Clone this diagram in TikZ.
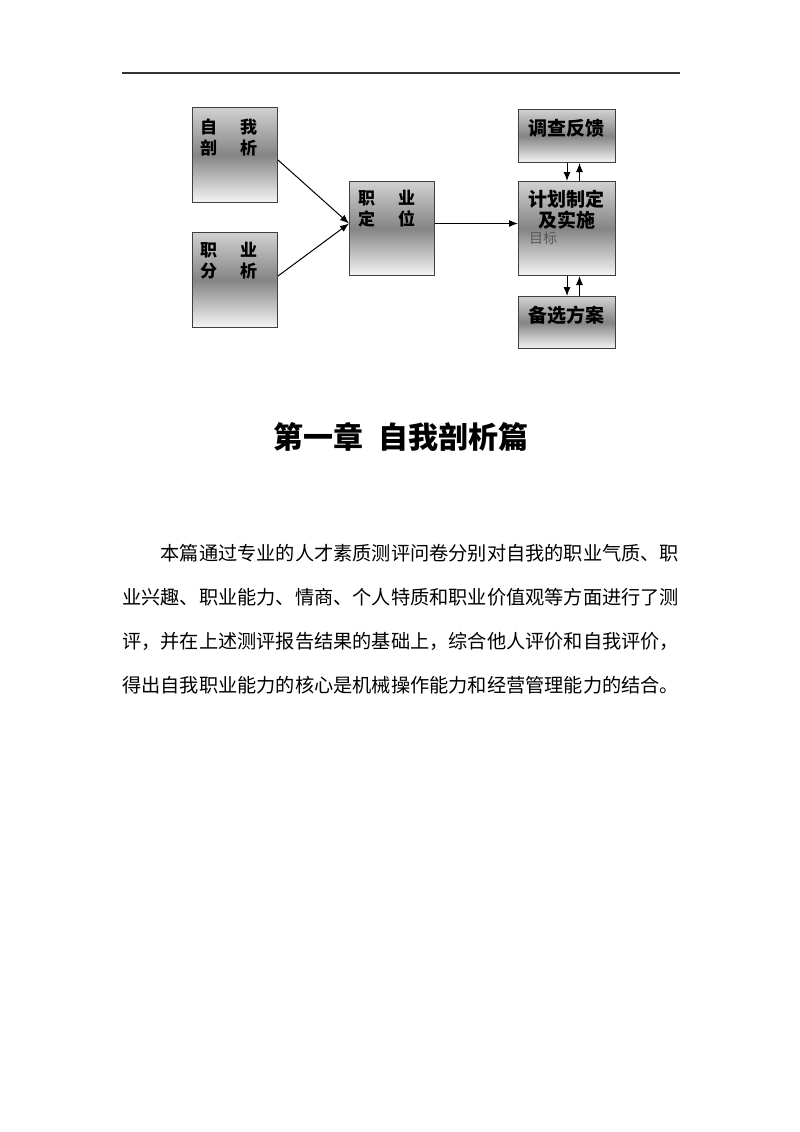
\documentclass[tikz,border=0pt]{standalone}
\usepackage{fontspec}
\newfontfamily\cjk{Noto Sans CJK SC}
\usetikzlibrary{arrows.meta}
\begin{document}
\begin{tikzpicture}[x=1pt,y=-1pt,>={Latex[length=9pt,width=7pt]},
	box/.style={draw=black!75,line width=1pt,top color=black!18,bottom color=black!4,middle color=black!48,inner sep=0pt,anchor=north west},
	boxtext/.style={font=\cjk\bfseries\fontsize{17}{21}\selectfont,align=left,inner sep=0pt,anchor=west},
	plantext/.style={font=\cjk\bfseries\fontsize{19}{21}\selectfont,align=center,inner sep=0pt},
	body/.style={font=\cjk\fontsize{19.2}{20}\selectfont,anchor=west,inner sep=0pt}]
	\fill[white] (0,0) rectangle (800,1132);
	\useasboundingbox (0,0) rectangle (800,1132);
	\draw[line width=1.3pt,black!80] (122,73) -- (680,73);

	\node[box,minimum width=85,minimum height=95] (self) at (192,107) {};
	\node[box,minimum width=85,minimum height=95] (job) at (192,232) {};
	\node[box,minimum width=85,minimum height=94] (pos) at (349,181) {};
	\node[box,minimum width=97,minimum height=53] (survey) at (518,109) {};
	\node[box,minimum width=97,minimum height=94] (plan) at (518,181) {};
	\node[box,minimum width=97,minimum height=52] (alt) at (518,296) {};

	\node[boxtext] (self-t) at (200,137.5) {自\hspace{23pt}我\\剖\hspace{23pt}析};
	\node[boxtext] (job-t) at (200,261) {职\hspace{23pt}业\\分\hspace{23pt}析};
	\node[boxtext] (pos-t) at (358,209) {职\hspace{23pt}业\\定\hspace{23pt}位};
	\node[plantext] (survey-t) at (566.5,128) {调查反馈};
	\node[plantext] (plan-t) at (566.5,210) {计划制定\\及实施};
	\node[font=\cjk\fontsize{14}{15}\selectfont,text=black!65,inner sep=0pt,anchor=west] (goal) at (529,238) {目标};
	\node[plantext] (alt-t) at (566.5,315) {备选方案};

	\draw[->,line width=1pt] ([yshift=-5pt]self.east) -- ([yshift=5pt]pos.west);
	\draw[->,line width=1pt] ([yshift=4pt]job.east) -- ([yshift=5pt]pos.west);
	\draw[->,line width=1pt] ([yshift=5pt]pos.east) -- ([yshift=5pt]plan.west);
	\draw[->,line width=1pt] (survey.south) -- (plan.north);
	\draw[->,line width=1pt] ([xshift=12.5pt]plan.north) -- ([xshift=12.5pt]survey.south);
	\draw[->,line width=1pt] (plan.south) -- (alt.north);
	\draw[->,line width=1pt] ([xshift=12.5pt]alt.north) -- ([xshift=12.5pt]plan.south);

	\node[font=\cjk\bfseries\fontsize{30}{32}\selectfont,inner sep=0pt] (title) at (401,437) {第一章\hspace{15pt}自我剖析篇};

	\node[body] (line1) at (160.4,553) {本篇通过专业的人才素质测评问卷分别对自我的职业气质、职};
	\node[body] (line2) at (122,597) {业兴趣、职业能力、情商、个人特质和职业价值观等方面进行了测};
	\node[body] (line3) at (122,641) {评，并在上述测评报告结果的基础上，综合他人评价和自我评价，};
	\node[body] (line4) at (122,685) {得出自我职业能力的核心是机械操作能力和经营管理能力的结合。};
\end{tikzpicture}
\end{document}
